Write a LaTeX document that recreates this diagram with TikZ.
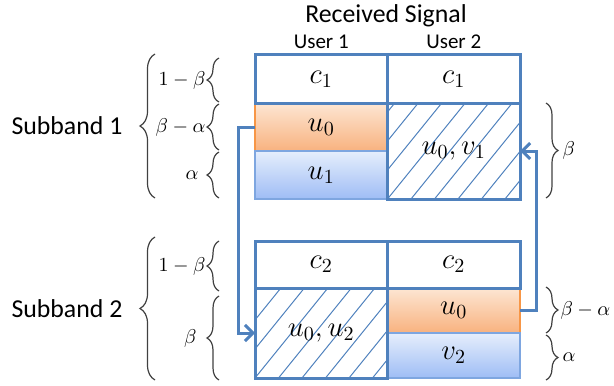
\documentclass[tikz,border=0pt]{standalone}
\usepackage{fontspec}
\setmainfont{Carlito}
\usetikzlibrary{positioning,calc,decorations.pathreplacing,arrows.meta}

\definecolor{cellblue}{HTML}{4F81BD}
\definecolor{orangetop}{HTML}{FDE6D3}
\definecolor{orangebot}{HTML}{F8B27F}
\definecolor{orangeline}{HTML}{F79646}
\definecolor{bluetop}{HTML}{E6EEFC}
\definecolor{bluebot}{HTML}{9EBDF5}
\definecolor{blueline}{HTML}{7EA6E0}
\definecolor{bracegray}{HTML}{404040}

\begin{document}
\begin{tikzpicture}[x=0.5pt, y=-0.5pt]
    \tikzstyle{cell} = [rectangle, draw=cellblue, line width=1.5pt, inner sep=0pt, outer sep=0pt, minimum width=66.25pt, font=\fontsize{14.4}{17}\selectfont]
    \tikzstyle{orangecell} = [cell, draw=orangeline, line width=0.6pt, top color=orangetop, bottom color=orangebot]
    \tikzstyle{bluecell} = [cell, draw=blueline, line width=0.6pt, top color=bluetop, bottom color=bluebot]
    \tikzstyle{hatchcell} = [cell, path picture={
        \foreach \k in {-5,...,6}
            \draw[cellblue, line width=0.5pt] ($(path picture bounding box.south west)+(\k*23.5,0)$) -- ++(-51:260);}]
    \tikzstyle{brc} = [draw=bracegray, line width=0.6pt, decorate, decoration={brace, amplitude=6pt}]
    \tikzstyle{lbl} = [inner sep=0pt, font=\fontsize{10}{12}\selectfont]
    \tikzstyle{head} = [inner sep=0pt, font=\fontsize{12.9}{15}\selectfont]
    \tikzstyle{flow} = [draw=cellblue, line width=1.5pt, -{Straight Barb[length=4pt, width=8pt, line width=1.5pt]}]

    \useasboundingbox (0,0) rectangle (614,385);

    % subband 1
    \node[orangecell, minimum height=24pt] (u0a) at (321.25,127) {$u_0$};
    \node[bluecell, minimum height=24pt, below=0pt of u0a] (u1a) {$u_1$};
    \node[hatchcell, minimum height=48pt, anchor=north west] (hatcha) at (u0a.north east) {$u_0,v_1$};
    \node[cell, minimum height=24pt, above=0pt of u0a] (c1a) {$c_1$};
    \node[cell, minimum height=24pt, right=0pt of c1a] (c1b) {$c_1$};

    % subband 2
    \node[orangecell, minimum height=22.5pt] (u0b) at (453.75,310.5) {$u_0$};
    \node[bluecell, minimum height=22.5pt, below=0pt of u0b] (v2b) {$v_2$};
    \node[hatchcell, minimum height=45pt, anchor=north east] (hatchb) at (u0b.north west) {$u_0,u_2$};
    \node[cell, minimum height=23.5pt, above=0pt of u0b] (c2b) {$c_2$};
    \node[cell, minimum height=23.5pt, left=0pt of c2b] (c2a) {$c_2$};

    % headings
    \node[head] (title) at (386,16) {Received Signal};
    \node[inner sep=0pt, font=\fontsize{10.5}{12}\selectfont, above=3pt of c1a] (user1) {User 1};
    \node[inner sep=0pt, font=\fontsize{10.5}{12}\selectfont, above=3pt of c1b] (user2) {User 2};

    % swaps
    \path[flow] (u0a.west) -- ++(-17,0) |- (hatchb.west);
    \path[flow] (u0b.east) -- ++(16,0) |- (hatcha.east);

    % braces, subband 1
    \draw[brc, decoration={brace, amplitude=7.5pt}] (155,198) -- (155,54) node[head, midway, left=16pt] (sb1) {Subband 1};
    \draw[brc] (219,102) -- (219,58) node[lbl, midway, left=6.5pt] (b1a) {$1-\beta$};
    \draw[brc] (219,150) -- (219,104) node[lbl, midway, left=6.5pt] (b1b) {$\beta-\alpha$};
    \draw[brc] (219,198) -- (219,152) node[lbl, midway, left=10pt] (b1c) {$\alpha$};
    \draw[brc] (546,103) -- (546,198) node[lbl, midway, right=8pt] (b1d) {$\beta$};

    % braces, subband 2
    \draw[brc, decoration={brace, amplitude=7.5pt}] (155,380) -- (155,237) node[head, midway, left=16pt] (sb2) {Subband 2};
    \draw[brc] (219,291) -- (219,241) node[lbl, midway, left=6.5pt] (b2a) {$1-\beta$};
    \draw[brc] (219,380) -- (219,296) node[lbl, midway, left=11pt] (b2b) {$\beta$};
    \draw[brc] (546,287) -- (546,333) node[lbl, midway, right=7pt] (b2c) {$\beta-\alpha$};
    \draw[brc] (546,335) -- (546,380) node[lbl, midway, right=8pt] (b2d) {$\alpha$};
\end{tikzpicture}
\end{document}
